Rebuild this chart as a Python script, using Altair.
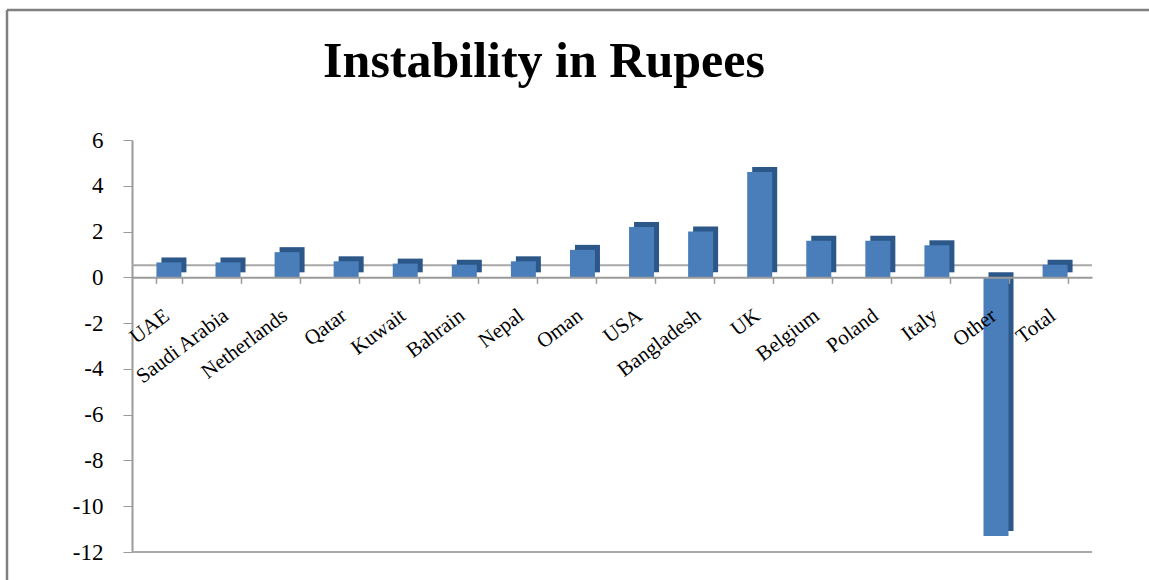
import altair as alt
import pandas as pd

categories = ["UAE", "Saudi Arabia", "Netherlands", "Qatar", "Kuwait", "Bahrain",
              "Nepal", "Oman", "USA", "Bangladesh", "UK", "Belgium", "Poland",
              "Italy", "Other", "Total"]
values = [0.65, 0.65, 1.1, 0.7, 0.6, 0.55, 0.7, 1.2, 2.2, 2.0, 4.6, 1.6, 1.6,
          1.4, -11.3, 0.55]
y_ticks = [-12, -10, -8, -6, -4, -2, 0, 2, 4, 6]

df = pd.DataFrame({"country": categories, "value": values})
zero_df = pd.DataFrame({"v": [0]})
floor_df = pd.DataFrame({"v": [-12]})

W, H = 960, 412
PAD_L, PAD_T = 132, 140
ymin, ymax = -12, 6
zero_offset = -H * (0 - ymin) / (ymax - ymin)

SERIF = "Liberation Serif"
GRAY = "#9a9a9a"

x_enc = alt.X(
    "country:N", sort=categories,
    scale=alt.Scale(paddingInner=0.55, paddingOuter=0.4),
    axis=alt.Axis(
        title=None, orient="bottom", offset=zero_offset, zindex=2,
        labelAngle=-37, labelAlign="right", labelBaseline="top",
        labelFont=SERIF, labelFontSize=21, labelColor="black",
        labelPadding=21, labelOffset=-9, labelOverlap=False, labelBound=False,
        labelFlush=False, labelLimit=300, domainColor=GRAY, domainWidth=2,
        tickColor=GRAY, tickSize=6, tickWidth=1.5, tickBand="extent",
    ),
)
y_scale = alt.Scale(domain=[ymin, ymax], nice=False, zero=False)
y_axis = alt.Axis(
    title=None, values=y_ticks, labelExpr="'' + datum.value",
    labelFont=SERIF, labelFontSize=23, labelColor="black",
    labelPadding=20, domainColor=GRAY, domainWidth=2,
    tickColor=GRAY, tickSize=9, grid=False,
)
y_enc = alt.Y("value:Q", scale=y_scale, axis=y_axis)

# decorative outer frame (left and top edges, as in the reference picture)
frame_left = alt.Chart(zero_df).mark_rule(color="#808080", strokeWidth=2.5).encode(
    x=alt.value(7 - PAD_L), y=alt.value(10 - PAD_T), y2=alt.value(600 - PAD_T)
)
frame_top = alt.Chart(zero_df).mark_rule(color="#808080", strokeWidth=2.5).encode(
    x=alt.value(7 - PAD_L), x2=alt.value(1200 - PAD_L), y=alt.value(10 - PAD_T)
)

back_line = alt.Chart(zero_df).mark_rule(color="#a8a8a8", strokeWidth=2, yOffset=-12).encode(
    y=alt.Y("v:Q", scale=y_scale, axis=y_axis)
)
floor_line = alt.Chart(floor_df).mark_rule(color="#a8a8a8", strokeWidth=2).encode(
    y=alt.Y("v:Q", scale=y_scale, axis=y_axis)
)
side = alt.Chart(df).mark_bar(color="#2c5789", size=25, xOffset=5, yOffset=-5, y2Offset=-5).encode(
    x=x_enc, y=y_enc
)
front = alt.Chart(df).mark_bar(color="#4a7ebb", size=25).encode(
    x=x_enc, y=y_enc
)

chart = alt.layer(frame_left, frame_top, back_line, floor_line, side, front).properties(
    width=W, height=H,
    padding={"left": PAD_L, "top": PAD_T, "right": 57, "bottom": 28},
    autosize="none",
    view=alt.ViewBackground(strokeWidth=0, stroke="transparent"),
    title=alt.TitleParams(
        "Instability in Rupees", font=SERIF, fontSize=50, fontWeight="bold",
        color="black", anchor="middle", dx=-68, offset=-76, dy=42,
        baseline="alphabetic",
    ),
).configure_view(
    strokeWidth=0, stroke="transparent"
).configure_axis(
    labelFont=SERIF, labelColor="black"
).configure_axisY(
    labelFont=SERIF, labelFontSize=23
).configure(background="white", font=SERIF)

chart.save("out.html", embed_options={"renderer": "svg", "actions": False})
